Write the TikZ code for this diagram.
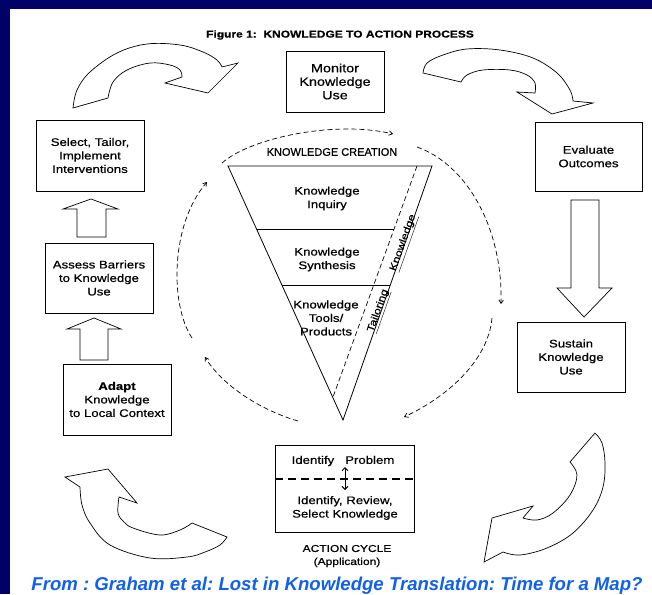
\documentclass[tikz,border=0pt]{standalone}
\usepackage{fontspec}
\setmainfont{Liberation Sans}
\newfontfamily\figfont[FakeStretch=1.2, FakeBold=0.6]{Liberation Sans}
\newfontfamily\headfont[FakeBold=0.6]{Liberation Sans}
\usetikzlibrary{arrows.meta}
\frenchspacing

\definecolor{slidenavy}{RGB}{0,0,102}
\definecolor{captionblue}{RGB}{16,96,240}

\tikzset{
  stepbox/.style={draw, line width=0.7pt, align=center, inner sep=0pt,
    font=\figfont\fontsize{11}{13.5}\selectfont},
  blockarrow/.style={draw, line width=0.7pt, fill=white, line join=miter},
  cyclearrow/.style={dashed, line width=0.7pt, dash pattern=on 5pt off 3pt,
    -{Straight Barb[length=3.5pt,width=4.5pt]}},
  plaintext/.style={align=center, font=\figfont\fontsize{11}{13.5}\selectfont},
}

\begin{document}
\begin{tikzpicture}[x=1pt, y=-1pt]
    % Slide background
    \useasboundingbox (0,0) rectangle (652,594);
    \fill[slidenavy] (0,0) rectangle (652,594);
    \fill[white] (10,9) rectangle (652,594);

    % Title
    \node[plaintext, font=\figfont\bfseries\fontsize{10}{12}\selectfont] (title) at (340,35)
      {Figure 1:\ \ KNOWLEDGE TO ACTION PROCESS};

    % Action cycle boxes
    \node[stepbox, minimum width=98pt, minimum height=61pt, font=\figfont\fontsize{12}{13.5}\selectfont] (monitor) at (335,81.5)
      {Monitor\\Knowledge\\Use};
    \node[stepbox, minimum width=107pt, minimum height=69pt] (evaluate) at (588.5,156.5)
      {Evaluate\\Outcomes};
    \node[stepbox, minimum width=108pt, minimum height=70pt] (sustain) at (571,357)
      {Sustain\\Knowledge\\Use};
    \node[stepbox, minimum width=108pt, minimum height=71pt] (select) at (90,155.5)
      {Select, Tailor,\\Implement\\Interventions};
    \node[stepbox, minimum width=108pt, minimum height=70pt] (assess) at (99,278)
      {Assess Barriers\\to Knowledge\\Use};
    \node[stepbox, minimum width=108pt, minimum height=71pt] (adapt) at (117,399.5)
      {\textbf{Adapt}\\Knowledge\\to Local Context};
    \node[draw, line width=0.9pt, minimum width=139pt, minimum height=87pt] (action) at (344.5,488.5) {};

    % Inside the action box
    \node[plaintext] (problem) at (343,461) {Identify\ \ \ Problem};
    \node[plaintext] (review) at (345,508) {Identify, Review,\\Select Knowledge};
    \draw[line width=1.2pt, dash pattern=on 8pt off 5pt] (action.west |- 0,479) -- (action.east |- 0,479);
    \coordinate (up) at (345,467);
    \coordinate (down) at (345,490);
    \draw[line width=1pt, {Straight Barb[length=3pt,width=6pt]}-{Straight Barb[length=3pt,width=6pt]}] (up) -- (down);

    \node[plaintext, font=\figfont\fontsize{10}{13}\selectfont] (cycle) at (347,556) {ACTION CYCLE\\(Application)};

    % Straight block arrows
    \draw[blockarrow] (77,237) -- (77,209) -- (63,209) -- (91,199) -- (118,209) -- (106,209) -- (106,237) -- cycle;
    \draw[blockarrow] (80,360) -- (80,329) -- (67,329) -- (94,318) -- (121,329) -- (108,329) -- (108,360) -- cycle;
    \draw[blockarrow] (571,200) -- (571,288) -- (557,288) -- (584,317) -- (612,288) -- (599,288) -- (599,200) -- cycle;

    % Curved block arrows
    \draw[blockarrow] (73,108) -- plot[smooth, tension=0.6] coordinates
      {(73,108) (77,90) (90,72) (117,53) (147,44) (180,45) (203,52) (217,60) (222,67)}
      -- (238,63) -- (208,93) -- (165,83) -- (182,77)
      -- plot[smooth, tension=0.6] coordinates
      {(182,77) (180,70) (170,65) (150,63) (127,70) (113,82) (108,98)} -- cycle;
    \draw[blockarrow] (423,73) -- plot[smooth, tension=0.6] coordinates
      {(423,73) (427,63) (443,55) (467,49) (500,50) (533,58) (557,73) (570,90) (573,101)}
      -- (593,103) -- (552,114) -- (517,92) -- (535,93)
      -- plot[smooth, tension=0.6] coordinates
      {(535,93) (535,83) (527,75) (510,70) (483,70) (467,75) (461,82)} -- cycle;
    \draw[blockarrow] (595,433) -- plot[smooth, tension=0.6] coordinates
      {(595,433) (602,443) (605,463) (603,487) (593,510) (573,533) (547,548) (520,555) (503,552)}
      -- (484,562) -- (492,518) -- (533,506) -- (523,518)
      -- plot[smooth, tension=0.6] coordinates
      {(523,518) (537,520) (553,513) (570,495) (577,475) (570,462)} -- cycle;
    \draw[blockarrow] (227,537) -- plot[smooth, tension=0.6] coordinates
      {(227,537) (220,545) (205,552) (187,557) (150,558) (110,545) (90,523) (82,505) (80,487)}
      -- (65,477) -- (108,469) -- (137,503) -- (119,497)
      -- plot[smooth, tension=0.6] coordinates
      {(119,497) (118,513) (124,522) (133,528) (160,535) (180,530) (192,523)} -- cycle;

    % Knowledge creation funnel
    \node[plaintext, font=\headfont\fontsize{11}{13.5}\selectfont] (creation) at (332,152) {KNOWLEDGE CREATION};
    \draw[line width=0.8pt] (228,166) -- (432,166) -- (343,420) -- cycle;
    \draw[line width=0.7pt] (256.5,229) -- (394,229);
    \draw[line width=0.7pt] (282,285) -- (390,285);
    \draw[line width=0.7pt, dash pattern=on 5pt off 3pt] (417,166) -- (333,397);
    \node[plaintext] (inquiry) at (327,198.5) {Knowledge\\Inquiry};
    \node[plaintext] (synthesis) at (327,259.5) {Knowledge\\Synthesis};
    \node[plaintext] (tools) at (326,318) {Knowledge\\Tools/\\Products};
    \node[plaintext, rotate=70.4, inner sep=1pt, font=\figfont\fontsize{10}{12}\selectfont] (tailoring) at (379,311) {\underline{Tailoring}};
    \node[plaintext, rotate=70.4, inner sep=1pt, font=\figfont\fontsize{10}{12}\selectfont] (tailored) at (404,243) {\underline{Knowledge}};

    % Dashed cycle around the funnel
    \coordinate (c1) at (222,163);
    \coordinate (c2) at (393,134);
    \coordinate (c3) at (417,147);
    \coordinate (c4) at (501,304);
    \coordinate (c5) at (492,318);
    \coordinate (c6) at (404,417);
    \coordinate (c7) at (298,421);
    \coordinate (c8) at (205,357);
    \coordinate (c9) at (192,338);
    \coordinate (c10) at (207,182);
    \draw[cyclearrow] (c1) .. controls (250,138) and (335,120) .. (c2);
    \draw[cyclearrow] (c3) .. controls (468,165) and (503,230) .. (c4);
    \draw[cyclearrow] (c5) .. controls (488,362) and (445,398) .. (c6);
    \draw[cyclearrow] (c7) .. controls (260,410) and (222,385) .. (c8);
    \draw[cyclearrow] (c9) .. controls (170,305) and (170,225) .. (c10);

    % Source line
    \node[font=\bfseries\itshape\fontsize{18.6}{20}\selectfont, text=captionblue, anchor=base] (source) at (337,590)
      {From : Graham et al: Lost in Knowledge Translation: Time for a Map?};
\end{tikzpicture}
\end{document}
